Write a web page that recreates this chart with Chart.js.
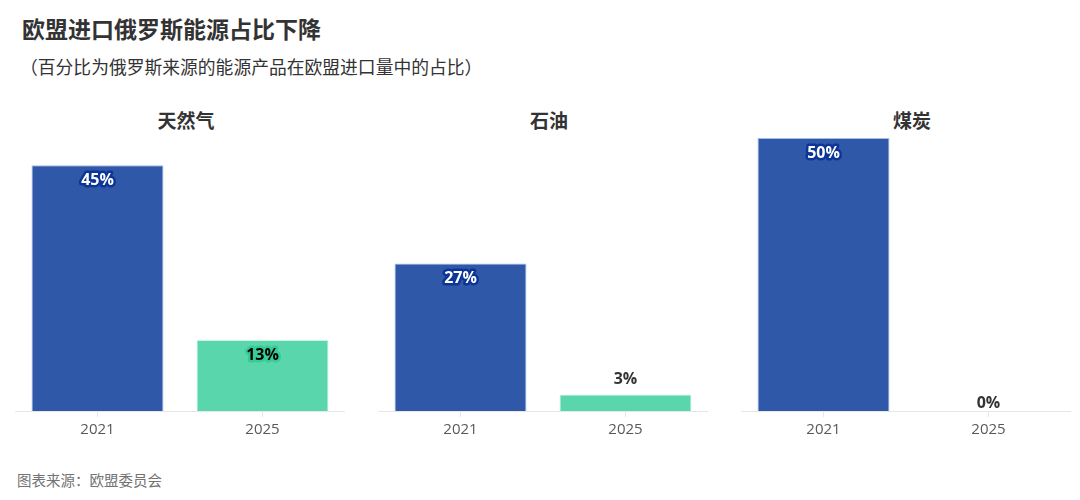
<!DOCTYPE html>
<html>
<head>
<meta charset="utf-8">
<script src="https://cdn.jsdelivr.net/npm/chart.js@4.4.1/dist/chart.umd.min.js"></script>
<style>
  html, body { margin: 0; padding: 0; background: #fff; }
  body { width: 1080px; height: 500px; position: relative; overflow: hidden;
         font-family: "Open Sans", "Noto Sans CJK SC", sans-serif; color: #333; }
  .title { position: absolute; left: 22px; top: 12px; font-size: 23px; font-weight: bold; line-height: 34px; }
  .subtitle { position: absolute; left: 20px; top: 54px; font-size: 17.8px; line-height: 26px; }
  .ptitle { position: absolute; top: 107px; width: 330px; text-align: center; font-size: 19px; font-weight: bold; line-height: 28px; }
  .panel { position: absolute; top: 138px; width: 330px; height: 312px; }
  .source { position: absolute; left: 17px; top: 471px; font-size: 14.5px; color: #737373; line-height: 20px; }
</style>
</head>
<body>
<div class="title">欧盟进口俄罗斯能源占比下降</div>
<div class="subtitle">（百分比为俄罗斯来源的能源产品在欧盟进口量中的占比）</div>
<div id="panels"></div>
<div class="source">图表来源：欧盟委员会</div>
<script>
(function(){
  // categories and values
  const YEARS = ['2021', '2025'];
  const PANEL_TITLES = ['天然气', '石油', '煤炭'];
  const GAS = [45, 13];
  const OIL = [27, 3];
  const COAL = [50, 0];
  const Y_MAX = 50;

  const SERIES = [GAS, OIL, COAL];
  const LEFTS = [15, 378, 741];
  const BLUE = '#2f58a9';
  const GREEN = '#5ad6ac';

  // draws the % labels on/above each bar
  const barLabels = {
    id: 'barLabels',
    afterDatasetsDraw(chart){
      const ctx = chart.ctx;
      const data = chart.data.datasets[0].data;
      chart.getDatasetMeta(0).data.forEach((bar, i) => {
        const v = data[i];
        const txt = v + '%';
        const h = bar.base - bar.y;
        ctx.save();
        ctx.font = 'bold 16px "Open Sans", sans-serif';
        ctx.textAlign = 'center';
        ctx.textBaseline = 'middle';
        ctx.lineJoin = 'round';
        if (h > 30) {
          const y = bar.y + 15;
          ctx.lineWidth = 5;
          if (i === 0) { ctx.strokeStyle = '#0c3596'; ctx.fillStyle = '#fff'; }
          else { ctx.strokeStyle = '#36cc96'; ctx.fillStyle = '#000'; }
          ctx.strokeText(txt, bar.x, y);
          ctx.fillText(txt, bar.x, y);
        } else {
          const y = v === 0 ? bar.base - 8 : bar.y - 15;
          ctx.fillStyle = '#333';
          ctx.fillText(txt, bar.x, y);
        }
        ctx.restore();
      });
    }
  };

  const holder = document.getElementById('panels');

  SERIES.forEach((vals, p) => {
    const t = document.createElement('div');
    t.className = 'ptitle';
    t.style.left = (LEFTS[p] + 6) + 'px';
    t.textContent = PANEL_TITLES[p];
    holder.appendChild(t);

    const box = document.createElement('div');
    box.className = 'panel';
    box.style.left = LEFTS[p] + 'px';
    const cv = document.createElement('canvas');
    box.appendChild(cv);
    holder.appendChild(box);

    new Chart(cv.getContext('2d'), {
      type: 'bar',
      data: {
        labels: YEARS,
        datasets: [{
          data: vals,
          backgroundColor: [BLUE, GREEN],
          borderColor: ['rgba(140,170,230,0.8)', 'rgba(190,240,220,0.8)'],
          borderWidth: 1,
          barPercentage: 0.8,
          categoryPercentage: 1
        }]
      },
      options: {
        responsive: true,
        maintainAspectRatio: false,
        animation: false,
        layout: { padding: 0 },
        plugins: { legend: { display: false }, tooltip: { enabled: false } },
        scales: {
          y: { display: false, min: 0, max: Y_MAX },
          x: {
            afterFit: (scale) => { scale.height = 39; },
            border: { display: true, color: '#e6e6e6', width: 1 },
            grid: { offset: false, drawOnChartArea: false, drawTicks: true, tickLength: 6, color: '#e6e6e6' },
            ticks: { color: '#595959', padding: 4, font: { family: '"Open Sans", sans-serif', size: 15 } }
          }
        }
      },
      plugins: [barLabels]
    });
  });
})();
</script>
</body>
</html>
